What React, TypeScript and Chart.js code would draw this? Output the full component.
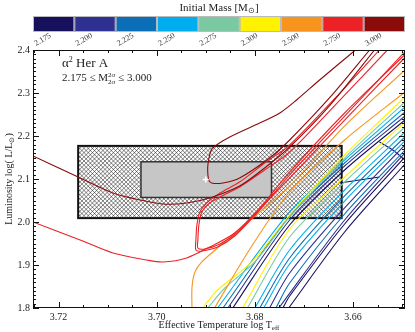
import React, { useEffect, useRef } from 'react';
import { Chart, registerables } from 'chart.js';

Chart.register(...registerables);

const FONT = "'Liberation Serif', 'Times New Roman', serif";

// colour bar: initial masses
const massLabels = ['2.175', '2.200', '2.225', '2.250', '2.275', '2.300', '2.500', '2.750', '3.000'];
const massColors = ['#17105c', '#2e3192', '#0a6fb6', '#00aeef', '#7bc9a3', '#fff200', '#f7941d', '#ed2226', '#8b0a0a'];

// axis ranges
const teffRange = [3.6494, 3.7252];
const lumRange = [1.8, 2.4];
const teffStep = 0.02;
const lumStep = 0.1;

// observed star and its 1- and 2-sigma boxes
const starPoint = [3.690, 2.099];
const box1Teff = [3.6766, 3.7032];
const box1Lum = [2.057, 2.140];
const box2Teff = [3.6623, 3.7160];
const box2Lum = [2.009, 2.177];

// evolutionary tracks [log Teff, log L]
const t3000a = [[3.7252, 2.1535], [3.7160, 2.1047], [3.7089, 2.0674], [3.7034, 2.0512], [3.6987, 2.0419], [3.6939, 2.0442], [3.6892, 2.0558], [3.6831, 2.0837], [3.6780, 2.1256], [3.6729, 2.1744], [3.6648, 2.2700], [3.6556, 2.4000]];
const t3000b = [[3.6595, 2.4000], [3.6668, 2.3302], [3.6715, 2.2837], [3.6749, 2.2535], [3.6790, 2.2302], [3.6851, 2.1977], [3.6886, 2.1721], [3.6892, 2.1558], [3.6896, 2.1279], [3.6894, 2.0977], [3.6888, 2.0907], [3.6865, 2.0907], [3.6831, 2.1023], [3.6770, 2.1488], [3.6729, 2.1907], [3.6648, 2.2884], [3.6566, 2.4000]];
const t2750a = [[3.7252, 2.0000], [3.7156, 1.9581], [3.7089, 1.9279], [3.7020, 1.9116], [3.6987, 1.9070], [3.6939, 1.9163], [3.6892, 1.9419], [3.6841, 1.9744], [3.6790, 2.0326], [3.6729, 2.1163], [3.6617, 2.2535], [3.6495, 2.3884]];
const t2750b = [[3.6546, 2.4000], [3.6617, 2.3116], [3.6729, 2.1791], [3.6780, 2.1372], [3.6831, 2.0930], [3.6871, 2.0674], [3.6898, 2.0442], [3.6912, 2.0233], [3.6918, 1.9930], [3.6920, 1.9581], [3.6920, 1.9349], [3.6908, 1.9326], [3.6876, 1.9419], [3.6841, 1.9674], [3.6790, 2.0279], [3.6729, 2.1093], [3.6617, 2.2465], [3.6495, 2.3953]];
const t2750c = [[3.6530, 2.4000], [3.6617, 2.2953], [3.6729, 2.1628], [3.6780, 2.1209], [3.6831, 2.0814], [3.6867, 2.0605], [3.6892, 2.0442], [3.6908, 2.0233], [3.6914, 1.9930], [3.6916, 1.9581], [3.6916, 1.9395], [3.6902, 1.9372], [3.6871, 1.9488], [3.6837, 1.9744], [3.6786, 2.0349], [3.6729, 2.1023], [3.6617, 2.2372], [3.6495, 2.3814]];
const t2500a = [[3.6928, 1.7950], [3.6928, 1.8488], [3.6922, 1.8837], [3.6908, 1.9070], [3.6876, 1.9395], [3.6841, 1.9744], [3.6729, 2.0837], [3.6617, 2.2233], [3.6494, 2.3535]];
const t2500b = [[3.6882, 1.8000], [3.6810, 1.9372], [3.6729, 2.0698], [3.6617, 2.1907], [3.6494, 2.3023]];
const t2300a = [[3.6906, 1.8000], [3.6876, 1.8419], [3.6806, 1.9070], [3.6729, 2.0163], [3.6617, 2.1558], [3.6494, 2.2907]];
const t2300b = [[3.6825, 1.8000], [3.6729, 1.9837], [3.6617, 2.1047], [3.6494, 2.2326]];
const t2275a = [[3.6896, 1.8000], [3.6861, 1.8465], [3.6800, 1.9070], [3.6729, 2.0116], [3.6617, 2.1488], [3.6494, 2.2791]];
const t2275b = [[3.6815, 1.8000], [3.6729, 1.9651], [3.6617, 2.0930], [3.6494, 2.2209]];
const t2250a = [[3.6876, 1.8000], [3.6729, 2.0233], [3.6617, 2.1442], [3.6494, 2.2674]];
const t2250b = [[3.6800, 1.8000], [3.6729, 1.9349], [3.6617, 2.0744], [3.6494, 2.2093]];
const t2250c = [[3.6782, 1.8000], [3.6729, 1.9023], [3.6617, 2.0488], [3.6494, 2.1884]];
const t2225a = [[3.6865, 1.8000], [3.6729, 2.0140], [3.6617, 2.1372], [3.6494, 2.2558]];
const t2225b = [[3.6790, 1.8000], [3.6729, 1.9163], [3.6617, 2.0605], [3.6494, 2.1977]];
const t2225c = [[3.6757, 1.8000], [3.6729, 1.8581], [3.6617, 2.0186], [3.6494, 2.1674]];
const t2200a = [[3.6855, 1.8000], [3.6729, 2.0047], [3.6617, 2.1302], [3.6494, 2.2465]];
const t2200b = [[3.6770, 1.8000], [3.6729, 1.8814], [3.6617, 2.0326], [3.6494, 2.1791]];
const t2200c = [[3.6751, 1.8000], [3.6617, 2.0047], [3.6494, 2.1605]];
const t2175a = [[3.6845, 1.8000], [3.6729, 1.9930], [3.6617, 2.1209], [3.6494, 2.2372]];
const t2175b = [[3.6743, 1.8000], [3.6729, 1.8279], [3.6617, 1.9953], [3.6494, 2.1512]];
const t2175c = [[3.6731, 1.8000], [3.6617, 1.9767], [3.6494, 2.1349]];
const t2175d = [[3.6627, 2.0907], [3.6587, 2.0977], [3.6546, 2.1047]];
const t2175e = [[3.6546, 2.1860], [3.6519, 2.1674], [3.6494, 2.1442]];

// [mass index into massColors, track]
const trackList: [number, number[][]][] = [
  [8, t3000a], [8, t3000b],
  [7, t2750a], [7, t2750b], [7, t2750c],
  [6, t2500a], [6, t2500b],
  [5, t2300a], [5, t2300b],
  [4, t2275a], [4, t2275b],
  [3, t2250a], [3, t2250b], [3, t2250c],
  [2, t2225a], [2, t2225b], [2, t2225c],
  [1, t2200a], [1, t2200b], [1, t2200c],
  [0, t2175a], [0, t2175b], [0, t2175c], [0, t2175d], [0, t2175e],
];

type Part = { t: string; size: number; dy?: number };

function partsWidth(ctx: CanvasRenderingContext2D, parts: Part[]) {
  let w = 0;
  for (const p of parts) {
    ctx.font = `${p.size}px ${FONT}`;
    w += ctx.measureText(p.t).width;
  }
  return w;
}

function drawParts(ctx: CanvasRenderingContext2D, parts: Part[], x: number, y: number, center: boolean) {
  let cx = center ? x - partsWidth(ctx, parts) / 2 : x;
  ctx.textAlign = 'left';
  ctx.textBaseline = 'alphabetic';
  for (const p of parts) {
    ctx.font = `${p.size}px ${FONT}`;
    ctx.fillText(p.t, cx, y + (p.dy || 0));
    cx += ctx.measureText(p.t).width;
  }
  return cx;
}

const decor = {
  id: 'decor',
  beforeDatasetsDraw(chart: any) {
    const { ctx, scales } = chart;
    const xs = scales.x, ys = scales.y;
    const rect = (t: number[], l: number[]) => {
      const xa = xs.getPixelForValue(t[0]), xb = xs.getPixelForValue(t[1]);
      const ya = ys.getPixelForValue(l[0]), yb = ys.getPixelForValue(l[1]);
      return [Math.min(xa, xb), Math.min(ya, yb), Math.abs(xb - xa), Math.abs(yb - ya)];
    };
    ctx.save();
    const [hx, hy, hw, hh] = rect(box2Teff, box2Lum);
    ctx.fillStyle = '#fff';
    ctx.fillRect(hx, hy, hw, hh);
    // cross hatch
    ctx.save();
    ctx.beginPath();
    ctx.rect(hx, hy, hw, hh);
    ctx.clip();
    ctx.strokeStyle = '#1a1a1a';
    ctx.lineWidth = 0.55;
    ctx.beginPath();
    const gap = 4.2;
    for (let d = -hh; d < hw + hh; d += gap) {
      ctx.moveTo(hx + d, hy);
      ctx.lineTo(hx + d + hh, hy + hh);
      ctx.moveTo(hx + d, hy + hh);
      ctx.lineTo(hx + d + hh, hy);
    }
    ctx.stroke();
    ctx.restore();
    ctx.lineWidth = 2;
    ctx.strokeStyle = '#111';
    ctx.strokeRect(hx, hy, hw, hh);
    const [gx, gy, gw, gh] = rect(box1Teff, box1Lum);
    ctx.fillStyle = '#c6c6c6';
    ctx.fillRect(gx, gy, gw, gh);
    ctx.lineWidth = 1.5;
    ctx.strokeStyle = '#333';
    ctx.strokeRect(gx, gy, gw, gh);
    ctx.restore();
  },
  afterDraw(chart: any) {
    const { ctx, chartArea, scales } = chart;
    const { left, right, top, bottom } = chartArea;
    const xs = scales.x, ys = scales.y;
    ctx.save();
    // frame
    ctx.strokeStyle = '#111';
    ctx.lineWidth = 1;
    ctx.strokeRect(left + 0.5, top + 0.5, right - left - 1, bottom - top - 1);
    // inward ticks
    ctx.beginPath();
    for (let k = 728; k <= 746; k++) {
      const v = k * 0.005;
      const px = Math.round(xs.getPixelForValue(v)) + 0.5;
      if (px < left + 1 || px > right - 1) continue;
      const len = k % 4 === 0 ? 6 : 3;
      ctx.moveTo(px, bottom); ctx.lineTo(px, bottom - len);
      ctx.moveTo(px, top); ctx.lineTo(px, top + len);
    }
    for (let k = 180; k <= 240; k++) {
      const v = k / 100;
      const py = Math.round(ys.getPixelForValue(v)) + 0.5;
      const len = k % 10 === 0 ? 6 : 3;
      ctx.moveTo(left, py); ctx.lineTo(left + len, py);
      ctx.moveTo(right, py); ctx.lineTo(right - len, py);
    }
    ctx.stroke();

    // colour bar
    const n = massColors.length;
    const segW = (right - left) / n;
    const cbTop = 16, cbBot = 32;
    for (let i = 0; i < n; i++) {
      ctx.fillStyle = massColors[i];
      ctx.fillRect(left + i * segW, cbTop, segW, cbBot - cbTop);
    }
    ctx.strokeStyle = '#bbb';
    ctx.lineWidth = 1;
    for (let i = 0; i < n; i++) {
      ctx.strokeRect(left + i * segW + 0.5, cbTop + 0.5, segW - 1, cbBot - cbTop - 1);
    }
    ctx.fillStyle = '#333';
    ctx.font = `8px ${FONT}`;
    ctx.textAlign = 'left';
    ctx.textBaseline = 'alphabetic';
    for (let i = 0; i < n; i++) {
      ctx.save();
      ctx.translate(left + i * segW + 3, 46);
      ctx.rotate(-Math.PI / 6);
      ctx.fillText(massLabels[i], 0, 0);
      ctx.restore();
    }
    ctx.fillStyle = '#222';
    drawParts(ctx, [{ t: 'Initial Mass [M', size: 11 }, { t: '\u2299', size: 8, dy: 2 }, { t: ']', size: 11 }], (left + right) / 2, 11, true);

    // axis titles
    drawParts(ctx, [{ t: 'Effective Temperature log T', size: 10 }, { t: 'eff', size: 7, dy: 2 }], (left + right) / 2, 328, true);
    ctx.save();
    ctx.translate(8, (top + bottom) / 2);
    ctx.rotate(-Math.PI / 2);
    drawParts(ctx, [{ t: 'Luminosity log( L/L', size: 10 }, { t: '\u2299', size: 7, dy: 2 }, { t: ')', size: 10 }], 0, 3.5, true);
    ctx.restore();

    // annotation
    drawParts(ctx, [{ t: '\u03b1', size: 13 }, { t: '2', size: 8, dy: -5 }, { t: ' Her A', size: 13 }], 62, 67, false);
    let cx = drawParts(ctx, [{ t: '2.175 \u2264 M', size: 11 }], 62, 81, false);
    ctx.font = `7px ${FONT}`;
    ctx.fillText('2\u03c3', cx, 77);
    ctx.fillText('2\u03c3', cx, 84);
    cx += ctx.measureText('2\u03c3').width;
    drawParts(ctx, [{ t: ' \u2264 3.000', size: 11 }], cx, 81, false);
    ctx.restore();
  },
};

export default function App() {
  const ref = useRef<HTMLCanvasElement>(null);
  useEffect(() => {
    const canvas = ref.current!;
    const datasets: any[] = [
      {
        data: [{ x: starPoint[0], y: starPoint[1] }],
        showLine: false,
        pointStyle: 'cross',
        pointRadius: 3,
        pointBorderWidth: 1.5,
        pointBorderColor: '#fff',
        pointBackgroundColor: '#fff',
      },
      ...trackList.map(([mi, pts]) => ({
        data: pts.map(([t, l]) => ({ x: t, y: l })),
        showLine: true,
        borderColor: massColors[mi],
        borderWidth: 1.1,
        pointRadius: 0,
        tension: 0.3,
        fill: false,
      })),
    ];
    const chart = new Chart(canvas, {
      type: 'scatter',
      data: { datasets },
      options: {
        animation: false,
        responsive: false,
        devicePixelRatio: 1,
        events: [],
        layout: { padding: { top: 50, right: 10, bottom: 0, left: 0 } },
        plugins: { legend: { display: false }, tooltip: { enabled: false } },
        scales: {
          x: {
            type: 'linear',
            min: teffRange[0],
            max: teffRange[1],
            reverse: true,
            afterFit: (s: any) => { s.height = 24; },
            grid: { display: false, drawTicks: false },
            border: { display: false },
            ticks: {
              stepSize: teffStep,
              includeBounds: false,
              padding: 3,
              maxRotation: 0,
              autoSkip: false,
              color: '#222',
              font: { family: FONT, size: 10 },
              callback: (v: any) => Number(v).toFixed(2),
            },
          },
          y: {
            type: 'linear',
            min: lumRange[0],
            max: lumRange[1],
            afterFit: (s: any) => { s.width = 33; },
            grid: { display: false, drawTicks: false },
            border: { display: false },
            ticks: {
              stepSize: lumStep,
              includeBounds: false,
              padding: 3,
              autoSkip: false,
              color: '#222',
              font: { family: FONT, size: 10 },
              callback: (v: any) => Number(v).toFixed(1),
            },
          },
        },
      } as any,
      plugins: [decor as any],
    });
    return () => chart.destroy();
  }, []);
  return (
    <div style={{ position: 'absolute', left: 0, top: 0, width: 415, height: 332, background: '#fff' }}>
      <canvas ref={ref} width={415} height={332} style={{ display: 'block', width: 415, height: 332 }} />
    </div>
  );
}
